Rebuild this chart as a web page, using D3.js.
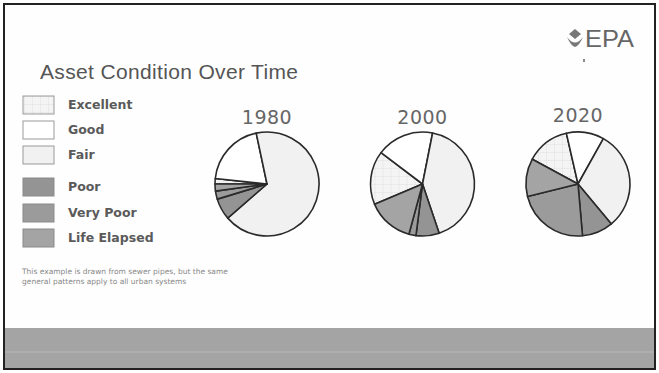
<!DOCTYPE html>
<html>
<head>
<meta charset="utf-8">
<script src="https://cdn.jsdelivr.net/npm/d3@7"></script>
<style>
  body { margin: 0; background: #fff; }
  svg { display: block; }
</style>
</head>
<body>
<div id="chart"></div>
<script>
// data (percent of assets per condition)
var categories = ["Excellent", "Good", "Fair", "Poor", "Very Poor", "Life Elapsed"];
var years = ["1980", "2000", "2020"];
var share1980 = [1.7, 20, 67, 6.7, 2.5, 2.2];
var share2000 = [16.7, 17.8, 41.7, 7.2, 2.2, 14.4];
var share2020 = [13.5, 11.7, 30.8, 9.7, 22.5, 11.8];
var noteLines = [
  "This example is drawn from sewer pipes, but the same",
  "general patterns apply to all urban systems"
];

// where each pie starts drawing (degrees clockwise from top)
var startDeg = [270, 247, 298.5];

var svgWidth = 659;
var svgHeight = 373;

var svg = d3.select("#chart")
  .append("svg")
  .attr("width", svgWidth)
  .attr("height", svgHeight);

// pattern for "Excellent"
var defs = svg.append("defs");
var pat = defs.append("pattern")
  .attr("id", "grid")
  .attr("patternUnits", "userSpaceOnUse")
  .attr("width", 8)
  .attr("height", 8);
pat.append("rect").attr("width", 8).attr("height", 8).attr("fill", "#f4f4f4");
pat.append("path").attr("d", "M0,0V8M0,0H8").attr("stroke", "#d6d6d6").attr("stroke-width", 0.7);

// slide frame
svg.append("rect")
  .attr("x", 4).attr("y", 4)
  .attr("width", 651).attr("height", 365)
  .attr("fill", "#fefefe")
  .attr("stroke", "#222")
  .attr("stroke-width", 2);

// bottom band
svg.append("rect")
  .attr("x", 5).attr("y", 328)
  .attr("width", 649).attr("height", 40)
  .attr("fill", "#a4a4a4");
svg.append("line")
  .attr("x1", 5).attr("x2", 654)
  .attr("y1", 352).attr("y2", 352)
  .attr("stroke", "#b2b2b2").attr("stroke-width", 1.5);

// title
svg.append("text")
  .attr("x", 40).attr("y", 79)
  .attr("font-family", "Liberation Sans Narrow, Liberation Sans, sans-serif")
  .attr("font-size", 21)
  .attr("fill", "#555")
  .attr("textLength", 258)
  .text("Asset Condition Over Time");

// EPA mark
var logo = svg.append("g").attr("transform", "translate(567,38)");
logo.append("path")
  .attr("d", "M8,-9 L14,-4 L8,1 L2,-4 Z M0,-1 Q8,10 16,-1 Q12,8 8,9 Q4,8 0,-1 Z")
  .attr("fill", "#777");
logo.append("text")
  .attr("x", 18).attr("y", 9)
  .attr("font-family", "Liberation Sans Narrow, Liberation Sans, sans-serif")
  .attr("font-size", 24)
  .attr("fill", "#666")
  .attr("textLength", 49)
  .attr("lengthAdjust", "spacingAndGlyphs")
  .text("EPA");
logo.append("rect").attr("x", 16).attr("y", 21).attr("width", 2).attr("height", 3).attr("fill", "#888");

// legend
var color = d3.scaleOrdinal()
  .domain(categories)
  .range(["url(#grid)", "#ffffff", "#f1f1f1", "#949494", "#9b9b9b", "#a4a4a4"]);

var legendY = d3.scaleOrdinal()
  .domain(categories)
  .range([104, 129, 154, 186, 212, 237]);

var legend = svg.append("g");
legend.selectAll("rect")
  .data(categories)
  .enter()
  .append("rect")
  .attr("x", 23)
  .attr("y", d => legendY(d) - 8)
  .attr("width", 31)
  .attr("height", 18)
  .attr("fill", d => color(d))
  .attr("stroke", (d, i) => i < 3 ? "#999" : "#8a8a8a")
  .attr("stroke-width", 1);

legend.selectAll("text")
  .data(categories)
  .enter()
  .append("text")
  .attr("x", 68)
  .attr("y", d => legendY(d) + 5)
  .attr("font-family", "DejaVu Sans, sans-serif")
  .attr("font-weight", "bold")
  .attr("font-size", 12.5)
  .attr("fill", "#5a5a5a")
  .text(d => d);

// pies
var x = d3.scalePoint()
  .domain(years)
  .range([267, 578]);

var radius = 52;
var arc = d3.arc().innerRadius(0).outerRadius(radius);
var shares = [share1980, share2000, share2020];

years.forEach((yr, k) => {
  var start = startDeg[k] * Math.PI / 180;
  var pie = d3.pie()
    .sort(null)
    .value(d => d.value)
    .startAngle(start)
    .endAngle(start + 2 * Math.PI);

  var slices = shares[k].map((v, i) => ({ cat: categories[i], value: v }));

  var g = svg.append("g")
    .attr("transform", `translate(${x(yr)}, 184)`);

  g.selectAll("path")
    .data(pie(slices))
    .enter()
    .append("path")
    .attr("d", arc)
    .attr("fill", d => color(d.data.cat))
    .attr("stroke", "#2a2a2a")
    .attr("stroke-width", 1.6)
    .attr("stroke-linejoin", "round");

  svg.append("text")
    .attr("x", x(yr))
    .attr("y", k == 2 ? 122 : 124)
    .attr("text-anchor", "middle")
    .attr("font-family", "DejaVu Sans, sans-serif")
    .attr("font-size", 19)
    .attr("fill", "#666")
    .attr("letter-spacing", 0.5)
    .text(yr);
});

// note text
svg.append("g").selectAll("text")
  .data(noteLines)
  .enter()
  .append("text")
  .attr("x", 22)
  .attr("y", (d, i) => 274 + i * 10)
  .attr("font-family", "DejaVu Sans, sans-serif")
  .attr("font-size", 7.5)
  .attr("fill", "#888")
  .text(d => d);
</script>
</body>
</html>
